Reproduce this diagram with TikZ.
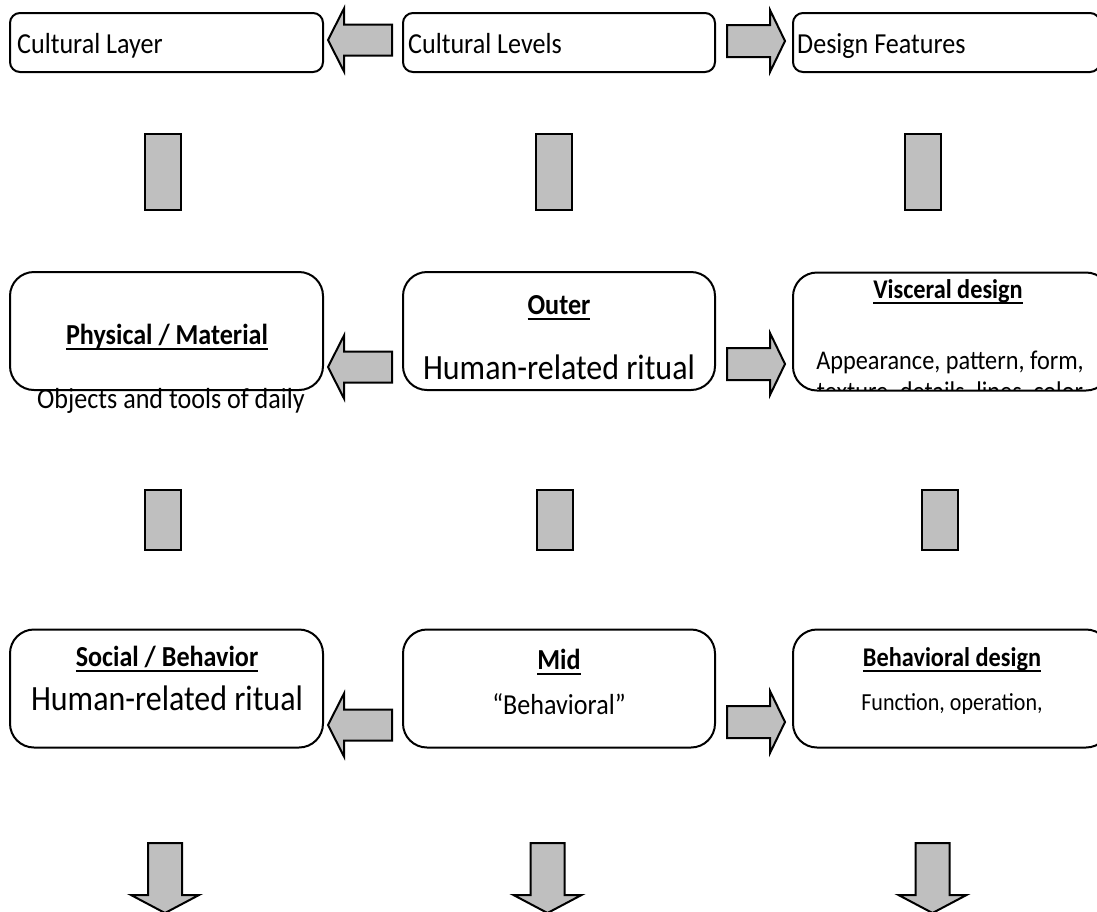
\documentclass[tikz,border=0pt]{standalone}
\usepackage{fontspec}
\setmainfont{Carlito}[FakeStretch=0.9]

% bold heading with a Word-like underline
\newcommand{\ulbold}[1]{\setbox0\hbox{\bfseries #1}\rlap{\rule[-6pt]{\wd0}{2pt}}\box0}

\begin{document}
\begin{tikzpicture}[
    x=1pt, y=-1pt,
    every node/.style={font=\fontsize{29}{34}\selectfont, inner sep=0pt},
    large/.style={font=\fontsize{35.5}{42}\selectfont},
    medium/.style={font=\fontsize{27}{32}\selectfont},
    small/.style={font=\fontsize{24.5}{29}\selectfont},
    topbox/.style={draw, line width=2pt, rounded corners=10pt, minimum height=59pt},
    bigbox/.style={draw, line width=2pt, rounded corners=24pt, minimum height=118pt},
    bar/.style={draw, fill=gray!50, line width=2pt},
    blockarrow/.style={draw, fill=gray!50, line width=2pt, line join=miter}
]
    \useasboundingbox (0,0) rectangle (1097,911);
    \clip (0,0) rectangle (1097,911);

    % Header row
    \node[topbox, minimum width=313pt] (layer)  at (166.5,42.5) {};
    \node[topbox, minimum width=312pt] (levels) at (559,42.5) {};
    \node[topbox, minimum width=307pt] (feat)   at (946.5,42.5) {};
    \node[anchor=base west] (layertxt)  at (17,53)  {Cultural Layer};
    \node[anchor=base west] (levelstxt) at (408,53) {Cultural Levels};
    \node[anchor=base west] (feattxt)   at (797,53) {Design Features};

    % Outer level
    \node[bigbox, minimum width=313pt] (phys)  at (166.5,331) {};
    \node[bigbox, minimum width=312pt] (outer) at (559,331) {};
    \node[bigbox, minimum width=317pt] (visc)  at (951.5,331.5) {};
    \node[anchor=base] (physhd)  at (167,344) {\ulbold{Physical / Material}};
    \node[anchor=base] (phystxt) at (171,408) {Objects and tools of daily};
    \node[anchor=base] (outerhd)  at (559,314) {\ulbold{Outer}};
    \node[anchor=base, large] (outertxt) at (559,379) {Human-related ritual};
    \node[anchor=base, medium] (vischd) at (948,298) {\ulbold{Visceral design}};
    \begin{scope}
        \clip (793,272) rectangle (1110,390);
        \node[anchor=base, medium] (vistxt) at (950,369) {Appearance, pattern, form,};
        \node[anchor=base, medium] (vismore) at (950,400) {texture, details, lines, color};
    \end{scope}

    % Mid level
    \node[bigbox, minimum width=313pt] (soc)   at (166.5,688.5) {};
    \node[bigbox, minimum width=312pt] (mid)   at (559,688.5) {};
    \node[bigbox, minimum width=317pt] (behav) at (951.5,688.5) {};
    \node[anchor=base] (sochd)  at (167,666) {\ulbold{Social / Behavior}};
    \node[anchor=base, large] (soctxt) at (167,710) {Human-related ritual};
    \node[anchor=base] (midhd)  at (559,669) {\ulbold{Mid}};
    \node[anchor=base] (midtxt) at (559,714) {“Behavioral”};
    \node[anchor=base, medium] (behavhd) at (952,666) {\ulbold{Behavioral design}};
    \node[anchor=base, small] (behavtxt) at (952,710) {Function, operation,};

    % Block arrows pointing left
    \foreach \cy in {40,367,725}
        \draw[blockarrow] (328,\cy) -- (344,\cy-31.5) -- (344,\cy-15.5) -- (392,\cy-15.5)
            -- (392,\cy+15.5) -- (344,\cy+15.5) -- (344,\cy+31.5) -- cycle;

    % Block arrows pointing right
    \foreach \cy in {41,364,722}
        \draw[blockarrow] (727,\cy-16) -- (770,\cy-16) -- (770,\cy-31) -- (785,\cy)
            -- (770,\cy+31) -- (770,\cy+16) -- (727,\cy+16) -- cycle;

    % Vertical bars between rows
    \foreach \cx in {162.5,554,922.5}
        \draw[bar] (\cx-18,134) rectangle (\cx+18,210);
    \foreach \cx in {162.5,555,939.5}
        \draw[bar] (\cx-18,490) rectangle (\cx+18,550);

    % Down arrows at the bottom
    \foreach \cx in {165,547.5,932.5}
        \draw[blockarrow] (\cx-17,843) -- (\cx+17,843) -- (\cx+17,895) -- (\cx+34,895)
            -- (\cx,913) -- (\cx-34,895) -- (\cx-17,895) -- cycle;

\end{tikzpicture}
\end{document}
